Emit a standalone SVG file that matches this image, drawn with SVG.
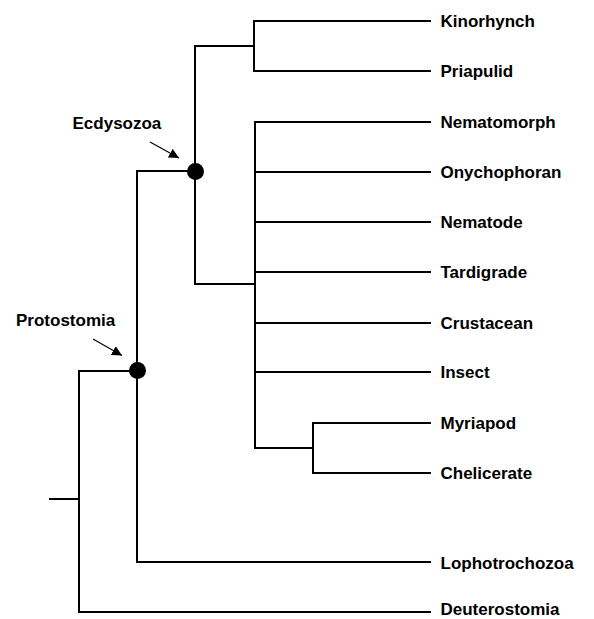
<svg xmlns="http://www.w3.org/2000/svg" width="594" height="619" viewBox="0 0 594 619">
<style>
.br{fill:none;stroke:#000;stroke-width:2;stroke-linecap:square}
.ar{fill:none;stroke:#000;stroke-width:1.2}
text{font-family:"Liberation Sans",Arial,sans-serif;font-weight:bold;font-size:17px;fill:#000}
.nd{fill:#000}
</style>
<defs>
<marker id="ah" viewBox="0 0 10 10" refX="10" refY="5" markerWidth="10" markerHeight="10" markerUnits="userSpaceOnUse" orient="auto">
<path d="M0,0 L10,5 L0,10 z" fill="#000"/>
</marker>
</defs>
<rect width="594" height="619" fill="#fff"/>
<g id="connectors">
<path class="br" d="M50,499 H79"/>
<path class="br" d="M79,371 V612 H430"/>
<path class="br" d="M79,371 H137"/>
<path class="br" d="M137,171 V562 H430"/>
<path class="br" d="M137,171 H195"/>
<path class="br" d="M195,46 V284 H255"/>
<path class="br" d="M195,46 H254"/>
<path class="br" d="M254,21 V71"/>
<path class="br" d="M254,21 H430"/>
<path class="br" d="M254,71 H430"/>
<path class="br" d="M255,122 V448 H313"/>
<path class="br" d="M255,122 H430"/>
<path class="br" d="M255,172 H430"/>
<path class="br" d="M255,222 H430"/>
<path class="br" d="M255,272 H430"/>
<path class="br" d="M255,323 H430"/>
<path class="br" d="M255,372 H430"/>
<path class="br" d="M313,423 V473"/>
<path class="br" d="M313,423 H430"/>
<path class="br" d="M313,473 H430"/>
<path class="ar" d="M150,142 L179,158" marker-end="url(#ah)"/>
<path class="ar" d="M93,339 L122,355.5" marker-end="url(#ah)"/>
</g>
<g id="ecdysozoa"><circle class="nd" cx="195.5" cy="171.5" r="8.5"/><text x="72.5" y="129">Ecdysozoa</text></g>
<g id="protostomia"><circle class="nd" cx="137.5" cy="370.5" r="8.5"/><text x="16" y="326">Protostomia</text></g>
<g id="kinorhynch"><text x="440.5" y="27">Kinorhynch</text></g>
<g id="priapulid"><text x="440.5" y="77">Priapulid</text></g>
<g id="nematomorph"><text x="440.5" y="128">Nematomorph</text></g>
<g id="onychophoran"><text x="440.5" y="178">Onychophoran</text></g>
<g id="nematode"><text x="440.5" y="228">Nematode</text></g>
<g id="tardigrade"><text x="440.5" y="278">Tardigrade</text></g>
<g id="crustacean"><text x="440.5" y="329">Crustacean</text></g>
<g id="insect"><text x="440.5" y="378">Insect</text></g>
<g id="myriapod"><text x="440.5" y="429">Myriapod</text></g>
<g id="chelicerate"><text x="440.5" y="479">Chelicerate</text></g>
<g id="lophotrochozoa"><text x="440.5" y="569">Lophotrochozoa</text></g>
<g id="deuterostomia"><text x="440.5" y="615">Deuterostomia</text></g>
</svg>
